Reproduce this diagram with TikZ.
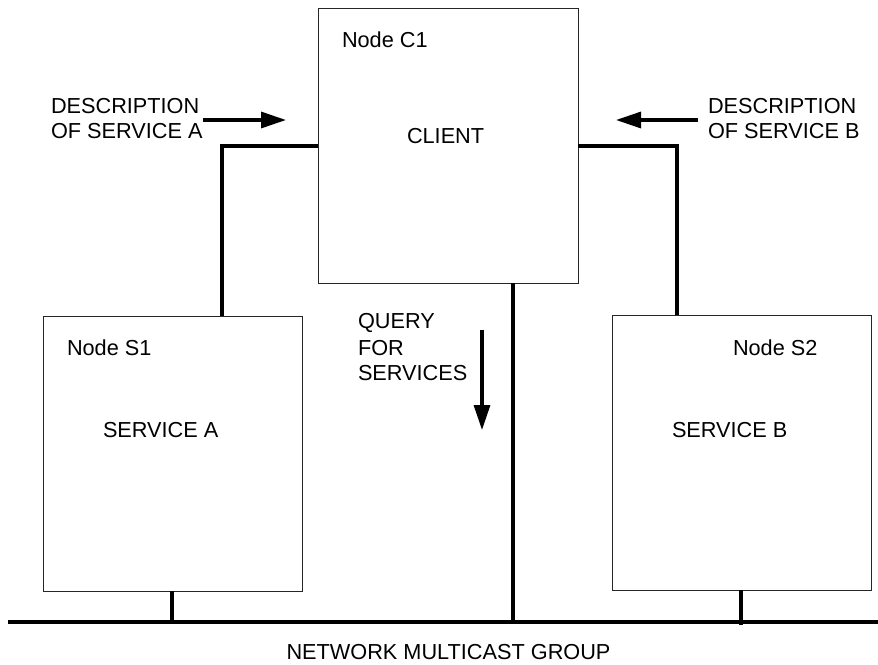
\documentclass[tikz,border=0pt]{standalone}
\usepackage{fontspec}
\setmainfont{Liberation Sans}
\usetikzlibrary{arrows.meta}
\begin{document}
\begin{tikzpicture}[x=1pt,y=-1pt,
  box/.style={draw=black!85,line width=1pt,inner sep=0pt,outer sep=0pt},
  wire/.style={line width=3.5pt},
  netline/.style={line width=4pt},
  msg/.style={line width=3.2pt,-{Triangle[length=25pt,width=16pt]}},
  lbl/.style={inner sep=0pt,outer sep=0pt,anchor=base west,font=\fontsize{21.7}{25}\selectfont}]
\useasboundingbox (0,0) rectangle (878,664);
% boxes
\node[box,minimum width=260pt,minimum height=275pt] (c1) at (448,145.5) {};
\node[box,minimum width=259pt,minimum height=275pt] (s1) at (172.5,453.5) {};
\node[box,minimum width=259pt,minimum height=275pt] (s2) at (741.5,452.5) {};
% coordinates
\coordinate (lbend) at (222,146);
\coordinate (rbend) at (677,146);
\coordinate (netL) at (8,622);
\coordinate (netR) at (878,622);
\coordinate (n1) at (172,622);
\coordinate (nc) at (513,622);
\coordinate (n2) at (741,625);
\coordinate (aA1) at (203,120);
\coordinate (aA2) at (286,120);
\coordinate (aB1) at (698,120);
\coordinate (aB2) at (616,120);
\coordinate (q1) at (482,330);
\coordinate (q2) at (482,430);
% connectors
\draw[wire] (c1.west |- lbend) -- (lbend) -- (lbend |- s1.north);
\draw[wire] (c1.east |- rbend) -- (rbend) -- (rbend |- s2.north);
\draw[netline] (netL) -- (netR);
\draw[wire] (n1 |- s1.south) -- (n1);
\draw[wire] (nc |- c1.south) -- (nc);
\draw[wire] (n2 |- s2.south) -- (n2);
% message arrows
\draw[msg] (aA1) -- (aA2);
\draw[msg] (aB1) -- (aB2);
\draw[msg] (q1) -- (q2);
% labels
\node[lbl] (tc1) at (342,47) {Node C1};
\node[lbl] (tclient) at (407,143) {CLIENT};
\node[lbl] (tda1) at (51,113) {DESCRIPTION};
\node[lbl] (tda2) at (51,138) {OF SERVICE A};
\node[lbl] (tdb1) at (708,113) {DESCRIPTION};
\node[lbl] (tdb2) at (708,138) {OF SERVICE B};
\node[lbl] (ts1) at (67,355) {Node S1};
\node[lbl] (tsa) at (103,437) {SERVICE A};
\node[lbl] (ts2) at (733,355) {Node S2};
\node[lbl] (tsb) at (672,437) {SERVICE B};
\node[lbl] (tq1) at (358,328) {QUERY};
\node[lbl] (tq2) at (358,355) {FOR};
\node[lbl] (tq3) at (358,380) {SERVICES};
\node[lbl,anchor=base] (tnet) at (448.5,659) {NETWORK MULTICAST GROUP};
\end{tikzpicture}
\end{document}
